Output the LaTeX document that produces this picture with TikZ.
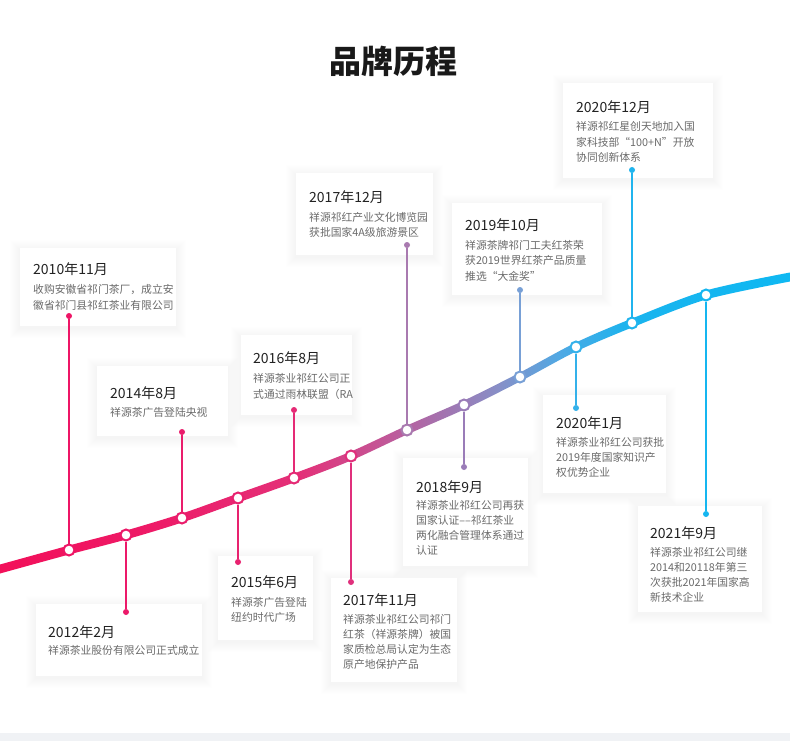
\documentclass[tikz,border=0pt]{standalone}
\usepackage{fontspec}
\newfontfamily\cjk{Noto Sans CJK SC}
\definecolor{g0}{HTML}{F2105A}
\definecolor{g1}{HTML}{EE1A67}
\definecolor{g2}{HTML}{E33179}
\definecolor{g3}{HTML}{C45596}
\definecolor{g4}{HTML}{A472AE}
\definecolor{g5}{HTML}{8690C8}
\definecolor{g6}{HTML}{4FA9E4}
\definecolor{g7}{HTML}{1AB4EE}
\definecolor{g8}{HTML}{0FB8F2}
\definecolor{k1}{HTML}{EE1566}
\definecolor{k2}{HTML}{EC1969}
\definecolor{k3}{HTML}{EA1D6C}
\definecolor{k4}{HTML}{E8226F}
\definecolor{k5}{HTML}{E52A75}
\definecolor{k6}{HTML}{E0307C}
\definecolor{k7}{HTML}{A97AB0}
\definecolor{k8}{HTML}{9A7CB8}
\definecolor{k9}{HTML}{78A0D6}
\definecolor{k10}{HTML}{34B1EA}
\definecolor{k11}{HTML}{20B4EE}
\definecolor{k12}{HTML}{15B6F0}
\definecolor{yrtext}{HTML}{222222}
\definecolor{bdtext}{HTML}{6A6A6A}
\definecolor{band}{HTML}{F0F2F5}
\pgfdeclarehorizontalshading{curvegrad}{100bp}{color(0bp)=(g0); color(25bp)=(g0); color(34.49bp)=(g1); color(43.99bp)=(g2); color(49.05bp)=(g3); color(52.85bp)=(g4); color(56.65bp)=(g5); color(60.44bp)=(g6); color(64.87bp)=(g7); color(75bp)=(g8); color(100bp)=(g8)}
\newcommand\mkshadow[4]{\foreach \s in {1,...,10}{\fill[black,opacity=0.0032] ({#1-\s},{#2-\s+2}) rectangle ({#1+#3+\s},{#2+#4+\s+2});}}
\tikzset{
  card/.style={rectangle, fill=white, draw=none, anchor=north west, inner sep=0},
  yr/.style={font=\cjk\fontsize{14}{14}\selectfont, text=yrtext, anchor=base west, inner sep=0},
  bd/.style={font=\cjk\fontsize{10.8}{12}\selectfont, text=bdtext, anchor=base west, inner sep=0},
  cdot/.style={circle, fill=white, line width=2pt, minimum size=11pt, inner sep=0},
  edot/.style={circle, minimum size=6pt, inner sep=0},
  conn/.style={line width=2pt}
}
\begin{document}
\begin{tikzpicture}[x=1pt,y=-1pt]
\useasboundingbox (0,0) rectangle (790,741);
\fill[white] (0,0) rectangle (790,741);
\fill[band] (0,733) rectangle (790,741);
% title
\node[font=\cjk\bfseries\fontsize{32}{32}\selectfont, text=black!90, anchor=base, inner sep=0] (title) at (393,74) {品牌历程};
% cards
\mkshadow{20}{248}{156}{78}
\node[card, minimum width=156pt, minimum height=78pt] (c1) at (20,248) {};
\mkshadow{97}{366}{131}{70}
\node[card, minimum width=131pt, minimum height=70pt] (c2) at (97,366) {};
\mkshadow{241}{335}{111}{80}
\node[card, minimum width=111pt, minimum height=80pt] (c3) at (241,335) {};
\mkshadow{296}{173}{137}{82}
\node[card, minimum width=137pt, minimum height=82pt] (c4) at (296,173) {};
\mkshadow{452}{203}{150}{92}
\node[card, minimum width=150pt, minimum height=92pt] (c5) at (452,203) {};
\mkshadow{563}{83}{150}{95}
\node[card, minimum width=150pt, minimum height=95pt] (c6) at (563,83) {};
\mkshadow{36}{604}{166}{72}
\node[card, minimum width=166pt, minimum height=72pt] (c7) at (36,604) {};
\mkshadow{218}{556}{95}{84}
\node[card, minimum width=95pt, minimum height=84pt] (c8) at (218,556) {};
\mkshadow{331}{578}{126}{104}
\node[card, minimum width=126pt, minimum height=104pt] (c9) at (331,578) {};
\mkshadow{403}{458}{125}{108}
\node[card, minimum width=125pt, minimum height=108pt] (c10) at (403,458) {};
\mkshadow{543}{395}{123}{98}
\node[card, minimum width=123pt, minimum height=98pt] (c11) at (543,395) {};
\mkshadow{638}{506}{124}{106}
\node[card, minimum width=124pt, minimum height=106pt] (c12) at (638,506) {};
% curve
\shade[shading=curvegrad] plot[smooth] coordinates {(0,564.5) (69,545.5) (126,530.5) (182,513.5) (238,493.5) (294,473.5) (351,451.5) (407,425.5) (464,400.5) (520,372.5) (576,342.5) (632,318.5) (706,290.5) (790,272.5)}
 -- plot[smooth] coordinates {(790,281.5) (706,299.5) (632,327.5) (576,351.5) (520,381.5) (464,409.5) (407,434.5) (351,460.5) (294,482.5) (238,502.5) (182,522.5) (126,539.5) (69,554.5) (0,573.5)} -- cycle;
% curve dots
\node[cdot, draw=k1] (d1) at (69,550) {};
\node[cdot, draw=k2] (d2) at (126,535) {};
\node[cdot, draw=k3] (d3) at (182,518) {};
\node[cdot, draw=k4] (d4) at (238,498) {};
\node[cdot, draw=k5] (d5) at (294,478) {};
\node[cdot, draw=k6] (d6) at (351,456) {};
\node[cdot, draw=k7] (d7) at (407,430) {};
\node[cdot, draw=k8] (d8) at (464,405) {};
\node[cdot, draw=k9] (d9) at (520,377) {};
\node[cdot, draw=k10] (d10) at (576,347) {};
\node[cdot, draw=k11] (d11) at (632,323) {};
\node[cdot, draw=k12] (d12) at (706,295) {};
% end dots
\node[edot, fill=k1] (e1) at (69,316) {};
\node[edot, fill=k2] (e2) at (126,612) {};
\node[edot, fill=k3] (e3) at (182,432) {};
\node[edot, fill=k4] (e4) at (238,562) {};
\node[edot, fill=k5] (e5) at (294,410) {};
\node[edot, fill=k6] (e6) at (351,582) {};
\node[edot, fill=k7] (e7) at (407,245) {};
\node[edot, fill=k8] (e8) at (464,467) {};
\node[edot, fill=k9] (e9) at (520,290) {};
\node[edot, fill=k10] (e10) at (576,408) {};
\node[edot, fill=k11] (e11) at (632,170) {};
\node[edot, fill=k12] (e12) at (706,514) {};
% connectors
\foreach \i in {1,...,12}{\draw[conn, k\i] (d\i) -- (e\i);}
% texts
\node[yr] (t1) at (33,274) {2010年11月};
\node[bd] (t1a) at (33,293) {收购安徽省祁门茶厂，成立安};
\node[bd] (t1b) at (33,309) {徽省祁门县祁红茶业有限公司};
\node[yr] (t2) at (110,398) {2014年8月};
\node[bd] (t2a) at (110,416) {祥源茶广告登陆央视};
\node[yr] (t3) at (253,363) {2016年8月};
\node[bd] (t3a) at (253,382) {祥源茶业祁红公司正};
\node[bd] (t3b) at (253,398) {式通过雨林联盟（RA};
\node[yr] (t4) at (309,202) {2017年12月};
\node[bd] (t4a) at (309,221) {祥源祁红产业文化博览园};
\node[bd] (t4b) at (309,236) {获批国家4A级旅游景区};
\node[yr] (t5) at (465,230) {2019年10月};
\node[bd] (t5a) at (465,249) {祥源茶牌祁门工夫红茶荣};
\node[bd] (t5b) at (465,264.5) {获2019世界红茶产品质量};
\node[bd] (t5c) at (465,280) {推选“大金奖”};
\node[yr] (t6) at (576,113) {2020年12月};
\node[bd] (t6a) at (576,131) {祥源祁红星创天地加入国};
\node[bd] (t6b) at (576,147) {家科技部“100+N”开放};
\node[bd] (t6c) at (576,162) {协同创新体系};
\node[yr] (t7) at (48,637) {2012年2月};
\node[bd] (t7a) at (48,654) {祥源茶业股份有限公司正式成立};
\node[yr] (t8) at (231,587) {2015年6月};
\node[bd] (t8a) at (231,606) {祥源茶广告登陆};
\node[bd] (t8b) at (231,621) {纽约时代广场};
\node[yr] (t9) at (343,605) {2017年11月};
\node[bd] (t9a) at (343,623) {祥源茶业祁红公司祁门};
\node[bd] (t9b) at (343,638) {红茶（祥源茶牌）被国};
\node[bd] (t9c) at (343,653) {家质检总局认定为生态};
\node[bd] (t9d) at (343,668) {原产地保护产品};
\node[yr] (t10) at (416,492) {2018年9月};
\node[bd] (t10a) at (416,509) {祥源茶业祁红公司再获};
\node[bd] (t10b) at (416,524) {国家认证––祁红茶业};
\node[bd] (t10c) at (416,539) {两化融合管理体系通过};
\node[bd] (t10d) at (416,554) {认证};
\node[yr] (t11) at (556,428) {2020年1月};
\node[bd] (t11a) at (556,446) {祥源茶业祁红公司获批};
\node[bd] (t11b) at (556,461) {2019年度国家知识产};
\node[bd] (t11c) at (556,476) {权优势企业};
\node[yr] (t12) at (650,538) {2021年9月};
\node[bd] (t12a) at (650,556) {祥源茶业祁红公司继};
\node[bd] (t12b) at (650,571) {2014和20118年第三};
\node[bd] (t12c) at (650,586) {次获批2021年国家高};
\node[bd] (t12d) at (650,601) {新技术企业};
\end{tikzpicture}
\end{document}
